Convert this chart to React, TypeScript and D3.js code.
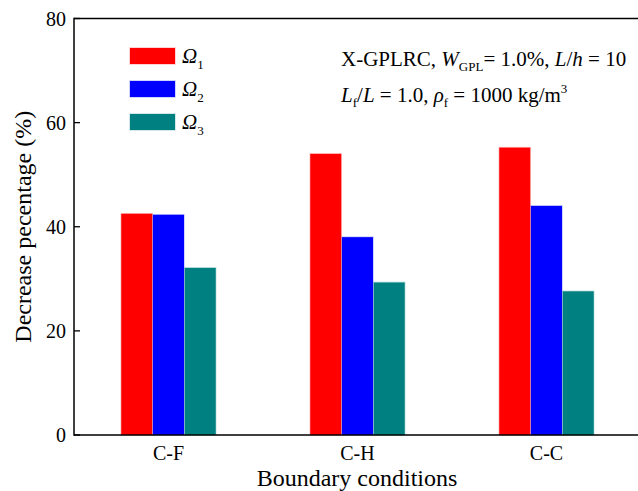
import * as d3 from 'd3';

const categories = ['C-F', 'C-H', 'C-C'];
const seriesNames = ['1', '2', '3'];
const omega1 = [42.5, 54.0, 55.2];
const omega2 = [42.3, 38.0, 44.0];
const omega3 = [32.1, 29.3, 27.6];
const yTicks = [0, 20, 40, 60, 80];

const colors = ['#ff0000', '#0000ff', '#008080'];
const series = [omega1, omega2, omega3];

const W = 638;
const H = 491;
const margin = { left: 74, top: 18.5, right: -3, bottom: 56 };
const font = '"Liberation Serif", "Times New Roman", serif';

export default function App() {
  const x = d3
    .scaleLinear()
    .domain([0.5, categories.length + 0.5])
    .range([margin.left, W - margin.right]);
  const y = d3.scaleLinear().domain([0, 80]).range([H - margin.bottom, margin.top]);
  const barW = 0.164;
  const step = 0.168;

  return (
    <svg
      width={W}
      height={H}
      style={{ position: 'absolute', left: 0, top: 0, background: '#fff' }}
      fontFamily={font}
    >
      {/* bars */}
      {categories.map((c, i) =>
        series.map((s, j) => {
          const cx = x(i + 1) + (j - 1) * (x(step) - x(0));
          const w = x(barW) - x(0);
          return (
            <rect
              key={`${c}-${j}`}
              x={cx - w / 2}
              y={y(s[i])}
              width={w}
              height={y(0) - y(s[i])}
              fill={colors[j]}
              stroke={colors[j]}
              strokeOpacity={0.22}
              strokeWidth={1.6}
            />
          );
        }),
      )}

      {/* frame */}
      <line x1={margin.left} x2={W} y1={y(80)} y2={y(80)} stroke="#000" strokeWidth={1.5} />
      <line x1={margin.left} x2={W} y1={y(0)} y2={y(0)} stroke="#000" strokeWidth={1.5} />
      <line x1={margin.left} x2={margin.left} y1={y(80) - 0.75} y2={y(0) + 0.75} stroke="#000" strokeWidth={1.5} />

      {/* y ticks */}
      {yTicks.map((t) => (
        <g key={t}>
          <line x1={margin.left} x2={margin.left + 6} y1={y(t)} y2={y(t)} stroke="#000" strokeWidth={1.3} />
          <text x={margin.left - 8} y={y(t)} dy="0.35em" textAnchor="end" fontSize={20}>
            {t}
          </text>
        </g>
      ))}

      {/* x labels */}
      {categories.map((c, i) => (
        <text key={c} x={x(i + 1)} y={460} textAnchor="middle" fontSize={20}>
          {c}
        </text>
      ))}

      <text x={(margin.left + W) / 2 + 1} y={486} textAnchor="middle" fontSize={24}>
        Boundary conditions
      </text>
      <text
        transform={`translate(31,${(y(0) + y(80)) / 2}) rotate(-90)`}
        textAnchor="middle"
        fontSize={24}
      >
        Decrease pecentage (%)
      </text>

      {/* legend */}
      {seriesNames.map((n, j) => (
        <g key={n} transform={`translate(130,${48 + j * 33})`}>
          <rect x={0} y={0} width={45} height={16} fill={colors[j]} stroke={colors[j]} strokeOpacity={0.22} strokeWidth={1.6} />
          <text x={52} y={15} fontSize={21}>
            <tspan fontStyle="italic">Ω</tspan>
            <tspan fontSize={13} dy={6}>{n}</tspan>
          </text>
        </g>
      ))}

      {/* annotation */}
      <text x={341} y={66} fontSize={21}>
        X-GPLRC, <tspan fontStyle="italic">W</tspan>
        <tspan fontSize={13} dy={5}>GPL</tspan>
        <tspan dy={-5}>= 1.0%, </tspan>
        <tspan fontStyle="italic">L</tspan>/<tspan fontStyle="italic">h</tspan> = 10
      </text>
      <text x={341} y={102} fontSize={21}>
        <tspan fontStyle="italic">L</tspan>
        <tspan fontSize={13} dy={5}>f</tspan>
        <tspan dy={-5}>/</tspan>
        <tspan fontStyle="italic">L</tspan> = 1.0, <tspan fontStyle="italic">ρ</tspan>
        <tspan fontSize={13} dy={5}>f</tspan>
        <tspan dy={-5}> = 1000 kg/m</tspan>
        <tspan fontSize={13} dy={-9}>3</tspan>
      </text>
    </svg>
  );
}
